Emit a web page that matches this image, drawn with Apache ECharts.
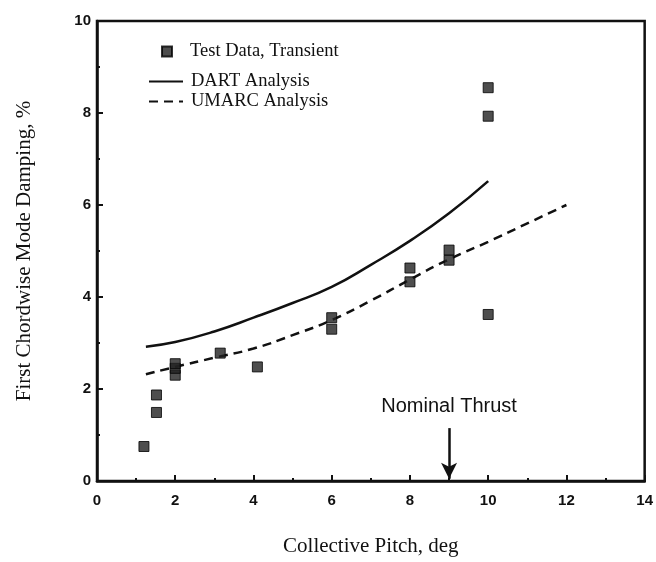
<!DOCTYPE html>
<html>
<head>
<meta charset="utf-8">
<script src="https://cdn.jsdelivr.net/npm/echarts@6/dist/echarts.min.js"></script>
<style>
  html, body { margin: 0; padding: 0; background: #fff; }
  #chart { width: 656px; height: 562px; }
</style>
</head>
<body>
<div id="chart"></div>
<script>
// test data, transient: [pitch deg, damping %]
const testData = [
  [1.2, 0.75], [1.52, 1.49], [1.52, 1.87],
  [2.0, 2.3], [2.0, 2.45], [2.0, 2.55],
  [3.15, 2.78], [4.1, 2.48],
  [6.0, 3.3], [6.0, 3.55],
  [8.0, 4.33], [8.0, 4.63],
  [9.0, 4.8], [9.0, 5.02],
  [10.0, 3.62], [10.0, 7.93], [10.0, 8.55]
];
const dartLine = [
  [1.25, 2.92], [2.0, 3.02], [3.0, 3.25], [4.0, 3.55], [5.0, 3.87],
  [6.0, 4.22], [7.0, 4.7], [8.0, 5.22], [9.0, 5.82], [10.0, 6.52]
];
const umarcLine = [
  [1.25, 2.32], [2.0, 2.48], [3.0, 2.68], [4.0, 2.88], [5.0, 3.17],
  [6.0, 3.5], [7.0, 3.92], [8.0, 4.38], [9.0, 4.82], [10.0, 5.2],
  [11.0, 5.6], [12.0, 6.0]
];
const arrowPitch = 9;
const arrowSpan = [1.15, 0.05];

const serif = '"Liberation Serif", "DejaVu Serif", serif';
const sans = '"Liberation Sans", Arial, sans-serif';

var myChart = echarts.init(document.getElementById('chart'));

const legendText = {fontFamily: serif, fontSize: 18.5, color: '#111'};
// hide the symbol drawn on top of the line icon
const noSymbol = {color: 'transparent', borderColor: 'transparent', borderWidth: 0};

myChart.setOption({
  animation: false,
  grid: {
    left: 97, right: 8, top: 21, bottom: 77,
    show: true, borderColor: '#111', borderWidth: 2.5
  },
  legend: [
    {
      data: ['Test Data, Transient'], left: 156, top: 37,
      itemWidth: 10, itemHeight: 10,
      textStyle: Object.assign({padding: [0, 0, 0, 13]}, legendText)
    },
    {
      data: ['DART Analysis'], left: 143, top: 67,
      itemWidth: 34, itemHeight: 12, itemStyle: noSymbol,
      textStyle: Object.assign({padding: [0, 0, 0, 3]}, legendText)
    },
    {
      data: ['UMARC Analysis'], left: 143, top: 87,
      itemWidth: 34, itemHeight: 12, itemStyle: noSymbol,
      textStyle: Object.assign({padding: [0, 0, 0, 3]}, legendText)
    }
  ],
  xAxis: {
    type: 'value', min: 0, max: 14, interval: 2,
    name: 'Collective Pitch, deg', nameLocation: 'middle', nameGap: 55,
    nameTextStyle: {fontFamily: serif, fontSize: 21, color: '#111'},
    axisLine: {lineStyle: {color: '#111', width: 2.5}},
    axisTick: {inside: true, length: 6, lineStyle: {width: 2}},
    minorTick: {show: true, splitNumber: 2, length: 3, lineStyle: {color: '#111', width: 2}},
    splitLine: {show: false},
    axisLabel: {fontFamily: sans, fontWeight: 'bold', fontSize: 15, color: '#111', margin: 12}
  },
  yAxis: {
    type: 'value', min: 0, max: 10, interval: 2,
    name: 'First Chordwise Mode Damping, %', nameLocation: 'middle', nameGap: 62,
    nameTextStyle: {fontFamily: serif, fontSize: 21, color: '#111'},
    axisLine: {lineStyle: {color: '#111', width: 2.5}},
    axisTick: {inside: true, length: 6, lineStyle: {width: 2}},
    minorTick: {show: true, splitNumber: 2, length: 3, lineStyle: {color: '#111', width: 2}},
    splitLine: {show: false},
    axisLabel: {fontFamily: sans, fontWeight: 'bold', fontSize: 15, color: '#111', margin: 6}
  },
  series: [
    {
      name: 'Test Data, Transient',
      type: 'scatter',
      symbol: 'rect', symbolSize: 10,
      itemStyle: {color: '#222', borderColor: '#000', borderWidth: 1},
      data: testData,
      z: 5
    },
    {
      name: 'DART Analysis',
      type: 'line', smooth: true, symbol: 'none', showSymbol: false,
      lineStyle: {color: '#111', width: 2.5},
      itemStyle: {color: '#111'},
      data: dartLine
    },
    {
      name: 'UMARC Analysis',
      type: 'line', smooth: true, symbol: 'none', showSymbol: false,
      lineStyle: {color: '#111', width: 2.5, type: [9, 6]},
      itemStyle: {color: '#111'},
      data: umarcLine,
      markLine: {
        silent: true,
        symbol: ['none', 'arrow'], symbolSize: [12, 16],
        lineStyle: {color: '#111', width: 2.5, type: 'solid'},
        label: {
          show: true, position: 'start', distance: 12,
          formatter: 'Nominal Thrust',
          fontFamily: sans, fontSize: 20, color: '#111'
        },
        data: [[
          {coord: [arrowPitch, arrowSpan[0]]},
          {coord: [arrowPitch, arrowSpan[1]]}
        ]]
      }
    }
  ]
});
</script>
</body>
</html>
